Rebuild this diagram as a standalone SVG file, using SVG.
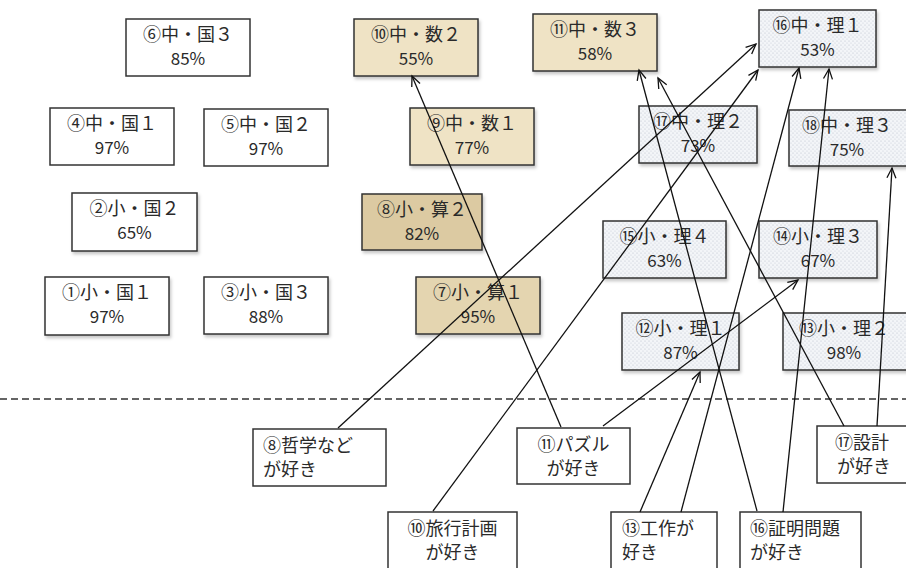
<svg xmlns="http://www.w3.org/2000/svg" width="906" height="568" viewBox="0 0 906 568">
<style>
.box{stroke:#333;stroke-width:1.5}
.w{fill:#fff}
.m1{fill:#efe3c5}
.m2{fill:#dccaa2}
.m3{fill:#e4d5b0}
.s{fill:url(#dots)}
.sh{filter:url(#shadow)}
.t1{font-family:"Noto Sans CJK JP","Noto Sans",sans-serif;font-size:18px;fill:#2a2a2a;text-anchor:middle}
.t2{font-family:"Noto Sans CJK JP","Noto Sans",sans-serif;font-size:17px;fill:#2a2a2a;text-anchor:middle}
.tb{font-family:"Noto Sans CJK JP","Noto Sans",sans-serif;font-size:18px;fill:#2a2a2a}
.c{text-anchor:middle}
.ln{stroke:#111;stroke-width:1.3;fill:none;marker-end:url(#arr)}
</style>
<defs>
<pattern id="dots" width="4" height="4" patternUnits="userSpaceOnUse">
<rect width="4" height="4" fill="#f3f5f8"/>
<circle cx="1" cy="1" r="0.6" fill="#b9c0cb"/>
<circle cx="3" cy="3" r="0.6" fill="#c9cfd8"/>
</pattern>
<filter id="shadow" x="-10%" y="-10%" width="130%" height="140%">
<feDropShadow dx="1.5" dy="2.5" stdDeviation="1.8" flood-color="#000" flood-opacity="0.22"/>
</filter>
<marker id="arr" markerUnits="userSpaceOnUse" markerWidth="14" markerHeight="14" viewBox="-12 -7 14 14" refX="0" refY="0" orient="auto">
<path d="M -10 -4.5 L 0 0 L -10 4.5" fill="none" stroke="#111" stroke-width="1.3"/>
</marker>
</defs>

<g id="nodes">
<g id="n6"><rect class="box w" x="126" y="19" width="124" height="57"/><text class="t1" x="188" y="41">⑥中・国３</text><text class="t2" x="188" y="65">85%</text></g>
<g id="n4"><rect class="box w" x="50" y="108" width="124" height="57"/><text class="t1" x="112" y="130">④中・国１</text><text class="t2" x="112" y="154">97%</text></g>
<g id="n5"><rect class="box w" x="204" y="109" width="124" height="57"/><text class="t1" x="266" y="131">⑤中・国２</text><text class="t2" x="266" y="155">97%</text></g>
<g id="n2"><rect class="box w sh" x="72" y="193" width="125" height="58"/><text class="t1" x="134.5" y="215">②小・国２</text><text class="t2" x="134.5" y="239">65%</text></g>
<g id="n1"><rect class="box w sh" x="45" y="277" width="124" height="58"/><text class="t1" x="107" y="299">①小・国１</text><text class="t2" x="107" y="323">97%</text></g>
<g id="n3"><rect class="box w sh" x="204" y="277" width="124" height="57"/><text class="t1" x="266" y="299">③小・国３</text><text class="t2" x="266" y="323">88%</text></g>

<g id="n10"><rect class="box m1 sh" x="354" y="19" width="124" height="57"/><text class="t1" x="416" y="41">⑩中・数２</text><text class="t2" x="416" y="65">55%</text></g>
<g id="n11"><rect class="box m1 sh" x="533" y="14" width="124" height="57"/><text class="t1" x="595" y="36">⑪中・数３</text><text class="t2" x="595" y="60">58%</text></g>
<g id="n9"><rect class="box m1 sh" x="410" y="108" width="124" height="57"/><text class="t1" x="472" y="130">⑨中・数１</text><text class="t2" x="472" y="154">77%</text></g>
<g id="n8"><rect class="box m2 sh" x="362" y="194" width="120" height="56"/><text class="t1" x="422" y="216">⑧小・算２</text><text class="t2" x="422" y="240">82%</text></g>
<g id="n7"><rect class="box m3 sh" x="416" y="277" width="124" height="57"/><text class="t1" x="478" y="299">⑦小・算１</text><text class="t2" x="478" y="323">95%</text></g>

<g id="n16"><rect class="box s sh" x="759" y="10" width="117" height="57"/><text class="t1" x="817.5" y="32">⑯中・理１</text><text class="t2" x="817.5" y="56">53%</text></g>
<g id="n17"><rect class="box s sh" x="639" y="106" width="118" height="57"/><text class="t1" x="698" y="128">⑰中・理２</text><text class="t2" x="698" y="152">73%</text></g>
<g id="n18"><rect class="box s sh" x="789" y="110" width="120" height="56"/><text class="t1" x="847" y="132">⑱中・理３</text><text class="t2" x="847" y="156">75%</text></g>
<g id="n15"><rect class="box s sh" x="603" y="221" width="123" height="57"/><text class="t1" x="664.5" y="243">⑮小・理４</text><text class="t2" x="664.5" y="267">63%</text></g>
<g id="n14"><rect class="box s sh" x="759" y="221" width="118" height="57"/><text class="t1" x="818" y="243">⑭小・理３</text><text class="t2" x="818" y="267">67%</text></g>
<g id="n12"><rect class="box s sh" x="622" y="313" width="117" height="57"/><text class="t1" x="680.5" y="335">⑫小・理１</text><text class="t2" x="680.5" y="359">87%</text></g>
<g id="n13"><rect class="box s sh" x="783" y="313" width="126" height="57"/><text class="t1" x="844" y="335">⑬小・理２</text><text class="t2" x="844" y="359">98%</text></g>

<g id="b8"><rect class="box w" x="253" y="429" width="133" height="57"/><text class="tb" x="263" y="452">⑧哲学など</text><text class="tb" x="263" y="476">が好き</text></g>
<g id="b10"><rect class="box w" x="388" y="512" width="129" height="62"/><text class="tb c" x="452.5" y="535">⑩旅行計画</text><text class="tb c" x="452.5" y="559">が好き</text></g>
<g id="b11"><rect class="box w" x="517" y="428" width="113" height="56"/><text class="tb c" x="573.5" y="451">⑪パズル</text><text class="tb c" x="573.5" y="475">が好き</text></g>
<g id="b13"><rect class="box w" x="611" y="512" width="106" height="62"/><text class="tb" x="622" y="535">⑬工作が</text><text class="tb" x="622" y="559">好き</text></g>
<g id="b16"><rect class="box w" x="740" y="512" width="121" height="62"/><text class="tb" x="750" y="535">⑯証明問題</text><text class="tb" x="750" y="559">が好き</text></g>
<g id="b17"><rect class="box w" x="817" y="426" width="94" height="57"/><text class="tb" x="835" y="449">⑰設計</text><text class="tb" x="837" y="473">が好き</text></g>
</g>

<line x1="0" y1="399" x2="906" y2="399" stroke="#333" stroke-width="1.3" stroke-dasharray="7 4"/>

<g id="connectors">
<line class="ln" x1="338" y1="428" x2="756" y2="44"/>
<line class="ln" x1="433" y1="511" x2="758" y2="70"/>
<line class="ln" x1="561" y1="427" x2="412" y2="76"/>
<line class="ln" x1="603" y1="426" x2="798" y2="280"/>
<line class="ln" x1="640" y1="512" x2="700" y2="372"/>
<line class="ln" x1="681" y1="512" x2="799" y2="68"/>
<line class="ln" x1="757" y1="511" x2="639" y2="70"/>
<line class="ln" x1="783" y1="512" x2="829" y2="69"/>
<line class="ln" x1="844" y1="426" x2="658" y2="78"/>
<line class="ln" x1="877" y1="426" x2="892" y2="168"/>
</g>
</svg>
